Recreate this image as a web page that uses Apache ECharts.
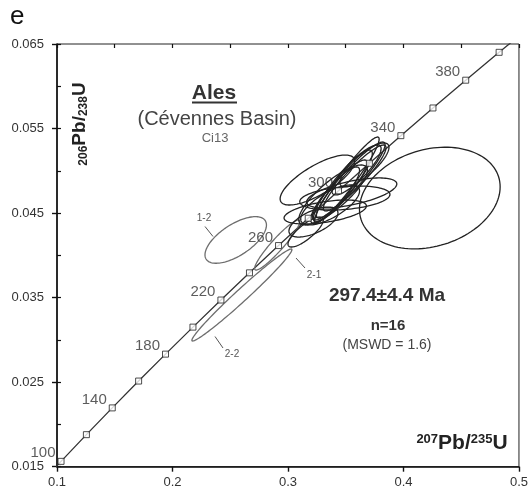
<!DOCTYPE html>
<html>
<head>
<meta charset="utf-8">
<script src="https://cdn.jsdelivr.net/npm/echarts@6/dist/echarts.min.js"></script>
<style>
html,body{margin:0;padding:0;background:#fff;}
#chart{width:531px;height:490px;}
</style>
</head>
<body>
<div id="chart"></div>
<script>
// ---- Concordia (U-Pb) reference points ----
const markerAges = [100,120,140,160,180,200,220,240,260,280,300,320,340,360,380,400];
const markerX = [0.10350,0.12545,0.14784,0.17067,0.19396,0.21771,0.24193,0.26664,0.29183,0.31753,0.34374,0.37047,0.39773,0.42553,0.45389,0.48281];
const markerY = [0.015633,0.018789,0.021955,0.025131,0.028316,0.031511,0.034716,0.037932,0.041157,0.044392,0.047637,0.050892,0.054158,0.057433,0.060719,0.064015];
const labeledAges = [100,140,180,220,260,300,340,380];
const curveX = [0.09808,0.10350,0.12545,0.14784,0.17067,0.19396,0.21771,0.24193,0.26664,0.29183,0.31753,0.34374,0.37047,0.39773,0.42553,0.45389,0.48281,0.49749];
const curveY = [0.014846,0.015633,0.018789,0.021955,0.025131,0.028316,0.031511,0.034716,0.037932,0.041157,0.044392,0.047637,0.050892,0.054158,0.057433,0.060719,0.064015,0.065667];

// ---- Analyses (2-sigma error ellipses) ----
const spotNames = ['A','1-2','2-2','2-1','B','N1','N2','N3','N4','N5','N6','N7','N8','W1','W2','W3','W4','W5','W6','W7'];
const spotX   = [0.4228,0.25475,0.2601,0.29066,0.31528,0.35093,0.35433,0.35772,0.34754,0.34499,0.34075,0.35942,0.33905,0.32547,0.33226,0.35518,0.34924,0.32207,0.33650,0.36621];
const spotY   = [0.04678,0.04182,0.03531,0.04122,0.04276,0.04891,0.04891,0.04915,0.04820,0.04773,0.04714,0.05010,0.04714,0.04891,0.04513,0.04738,0.04678,0.04394,0.04596,0.05069];
const spotErrX = [0.0609,0.02661,0.0433,0.01952,0.01528,0.02801,0.02971,0.02716,0.02547,0.02377,0.02122,0.02122,0.02971,0.03226,0.03565,0.03905,0.03905,0.02122,0.02547,0.02122];
const spotErrY = [0.00601,0.002756,0.00544,0.002957,0.001774,0.005086,0.004495,0.003903,0.004258,0.003549,0.003312,0.002957,0.003549,0.002957,0.001419,0.001774,0.001419,0.001774,0.002366,0.002602];
const spotRho = [0.22,0.64,0.984,0.935,0.8,0.95,0.93,0.92,0.9,0.9,0.88,0.85,0.82,0.75,0.5,0.6,0.3,0.6,0.7,0.8];
const rejectedSpots = ['1-2','2-2','2-1'];

const xTicks = [0.1,0.2,0.3,0.4,0.5];
const yTicks = [0.015,0.025,0.035,0.045,0.055,0.065];

const FONT = "'Liberation Sans', Arial, Helvetica, sans-serif";
const chart = echarts.init(document.getElementById('chart'), null, {renderer:'canvas'});

const ellipseData = spotNames.map((n,i)=>[spotX[i],spotY[i],spotErrX[i],spotErrY[i],spotRho[i], rejectedSpots.indexOf(n)>=0 ? 1 : 0]);
const curveData = curveX.map((x,i)=>[x,curveY[i]]);
const markerData = markerAges.map((a,i)=>[markerX[i],markerY[i],a]);

const option = {
  backgroundColor:'#fff',
  animation:false,
  grid:{left:57,right:4,top:44,bottom:23.3,show:true,borderColor:'#222',borderWidth:1,backgroundColor:'transparent'},
  xAxis:[
    {type:'value',min:xTicks[0],max:xTicks[xTicks.length-1],interval:0.1,
     axisLine:{show:true,onZero:false,lineStyle:{color:'#111',width:1.6}},
     axisTick:{show:true,inside:false,length:5,lineStyle:{color:'#111',width:1.4}},
     axisLabel:{show:true,margin:9,color:'#333',fontSize:13,fontFamily:FONT,formatter:v=>v.toFixed(1)},
     splitLine:{show:false}},
    {type:'value',min:xTicks[0],max:xTicks[xTicks.length-1],interval:0.05,
     axisLine:{show:false,onZero:false},
     axisTick:{show:true,inside:true,length:4,lineStyle:{color:'#111',width:1.2}},
     axisLabel:{show:false},splitLine:{show:false}}
  ],
  yAxis:[
    {type:'value',min:yTicks[0],max:yTicks[yTicks.length-1],interval:0.01,
     axisLine:{show:true,onZero:false,lineStyle:{color:'#111',width:1.6}},
     axisTick:{show:true,inside:false,length:5,lineStyle:{color:'#111',width:1.4}},
     axisLabel:{show:true,margin:13,color:'#333',fontSize:13,fontFamily:FONT,formatter:v=>v.toFixed(3)},
     splitLine:{show:false}},
    {type:'value',min:yTicks[0],max:yTicks[yTicks.length-1],interval:0.005,position:'left',
     axisLine:{show:false,onZero:false},
     axisTick:{show:true,inside:true,length:4,lineStyle:{color:'#111',width:1.2}},
     axisLabel:{show:false},splitLine:{show:false}}
  ],
  series:[
    {type:'line',data:curveData,showSymbol:false,clip:true,silent:true,z:2,
     lineStyle:{color:'#333',width:1.3}},
    {type:'custom',data:ellipseData,encode:{x:0,y:1},clip:true,z:3,silent:true,
     renderItem:function(params,api){
       const cx=api.value(0), cy=api.value(1), sx=api.value(2), sy=api.value(3), r=api.value(4), rej=api.value(5);
       const pts=[]; const q=Math.sqrt(1-r*r);
       for(let k=0;k<120;k++){
         const t=k/120*Math.PI*2;
         pts.push(api.coord([cx+sx*Math.cos(t), cy+sy*(r*Math.cos(t)+q*Math.sin(t))]));
       }
       return {type:'polygon',shape:{points:pts},style:{fill:null,stroke:rej?'#6e6e6e':'#222',lineWidth:rej?1.3:1.3}};
     }},
    {type:'scatter',data:markerData,symbol:'rect',symbolSize:6,z:5,silent:true,
     itemStyle:{color:'#fff',borderColor:'#222',borderWidth:1},
     label:{show:true,position:'left',distance:2,offset:[0,-8],color:'#333',fontSize:15,fontFamily:FONT,
       formatter:p=>labeledAges.indexOf(p.value[2])>=0?String(p.value[2]):''}}
  ],
  graphic:[
    {type:'text',x:10,y:30,style:{text:'e',font:'26px '+FONT,fill:'#111',verticalAlign:'bottom'}},
    {type:'text',x:80,y:124,rotation:Math.PI/2,style:{text:'{s|206}{b|Pb/}{s|238}{b|U}',align:'center',verticalAlign:'middle',
      rich:{s:{font:'bold 12px '+FONT,fill:'#222',verticalAlign:'bottom'},b:{font:'bold 19px '+FONT,fill:'#222',verticalAlign:'bottom'}}}},
    {type:'text',x:462,y:443,style:{text:'{s|207}{b|Pb/}{s|235}{b|U}',align:'center',verticalAlign:'middle',
      rich:{s:{font:'bold 13px '+FONT,fill:'#222',verticalAlign:'top'},b:{font:'bold 21px '+FONT,fill:'#222',verticalAlign:'bottom'}}}},
    {type:'text',x:214,y:93,style:{text:'Ales',font:'bold 21px '+FONT,fill:'#333',align:'center',verticalAlign:'middle'}},
    {type:'line',shape:{x1:192,y1:102.5,x2:237,y2:102.5},style:{stroke:'#333',lineWidth:2}},
    {type:'text',x:217,y:119,style:{text:'(Cévennes Basin)',font:'20px '+FONT,fill:'#444',align:'center',verticalAlign:'middle'}},
    {type:'text',x:215,y:138,style:{text:'Ci13',font:'13px '+FONT,fill:'#666',align:'center',verticalAlign:'middle'}},
    {type:'text',x:387,y:296,style:{text:'297.4±4.4 Ma',font:'bold 19px '+FONT,fill:'#333',align:'center',verticalAlign:'middle'}},
    {type:'text',x:388,y:326,style:{text:'n=16',font:'bold 15px '+FONT,fill:'#333',align:'center',verticalAlign:'middle'}},
    {type:'text',x:387,y:345,style:{text:'(MSWD = 1.6)',font:'14px '+FONT,fill:'#444',align:'center',verticalAlign:'middle'}},
    {type:'text',x:204,y:218,style:{text:'1-2',font:'10px '+FONT,fill:'#555',align:'center',verticalAlign:'middle'}},
    {type:'line',shape:{x1:205,y1:226.5,x2:213,y2:236.5},style:{stroke:'#555',lineWidth:1}},
    {type:'text',x:314,y:275,style:{text:'2-1',font:'10px '+FONT,fill:'#555',align:'center',verticalAlign:'middle'}},
    {type:'line',shape:{x1:296,y1:258,x2:305,y2:268},style:{stroke:'#555',lineWidth:1}},
    {type:'text',x:232,y:354,style:{text:'2-2',font:'10px '+FONT,fill:'#555',align:'center',verticalAlign:'middle'}},
    {type:'line',shape:{x1:215,y1:336.5,x2:223,y2:348},style:{stroke:'#555',lineWidth:1}}
  ]
};
chart.setOption(option);
</script>
</body>
</html>
